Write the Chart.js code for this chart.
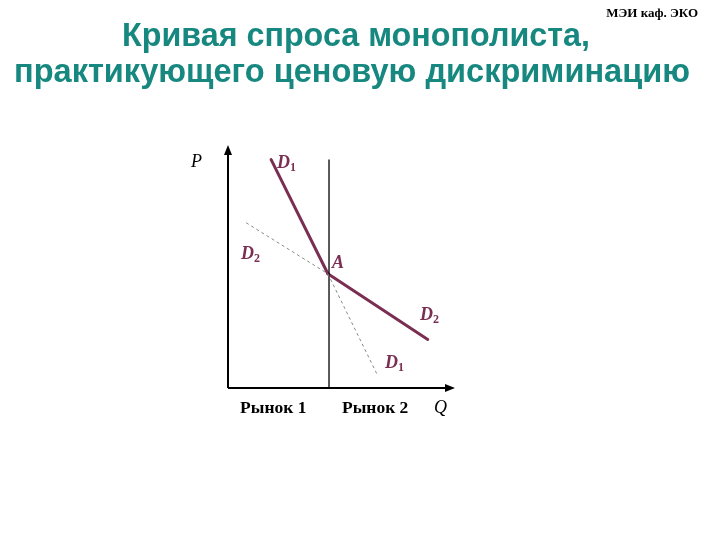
<!DOCTYPE html>
<html><head><meta charset="utf-8">
<script src="https://cdn.jsdelivr.net/npm/chart.js@4.4.0/dist/chart.umd.min.js"></script>
<style>html,body{margin:0;padding:0;background:#fff}#wrap{width:720px;height:540px}</style>
</head><body><div id="wrap"><canvas id="c" width="720" height="540"></canvas></div>
<script>
// Title texts
const titleLines = ["Кривая спроса монополиста,", "практикующего ценовую дискриминацию"];
const cornerText = "МЭИ каф. ЭКО";
// Curves (Q, P) in arbitrary units 0..100
const d1Solid = [[19, 94], [44, 47]];
const d2Solid = [[44, 47], [88, 20]];
const d1Dashed = [[44, 47], [66, 5]];
const d2Dashed = [[8, 68], [44, 47]];
const marketDivider = [[44.5, 0], [44.5, 94]];
// Text labels on the diagram
const labelText = ["P", "D", "D", "A", "D", "D", "Рынок 1", "Рынок 2", "Q"];
const labelSub  = ["",  "1", "2", "",  "2", "1", "", "", ""];
const labelQ    = [-16.3, 21.6, 5.7, 45.8, 84.6, 69.2, 5.3, 50.2, 90.7];
const labelP    = [91, 90.5, 53.1, 49.4, 28, 8.2, -10.3, -10.3, -10.3];

const MAROON = '#7a2e52';
const TEAL = '#16887f';
const toPts = a => a.map(p => ({x: p[0], y: p[1]}));

const labelStyle = ["p", "d", "d", "d", "d", "d", "m", "m", "p"];

const drawPlugin = {
  id: 'draw',
  afterDraw(chart) {
    const ctx = chart.ctx, a = chart.chartArea;
    const xs = chart.scales.x, ys = chart.scales.y;
    ctx.save();
    // axes
    ctx.strokeStyle = '#000'; ctx.fillStyle = '#000'; ctx.lineWidth = 2;
    ctx.beginPath(); ctx.moveTo(a.left, a.bottom); ctx.lineTo(a.left, a.top + 6);
    ctx.moveTo(a.left, a.bottom); ctx.lineTo(a.right - 6, a.bottom); ctx.stroke();
    ctx.beginPath(); ctx.moveTo(a.left, a.top); ctx.lineTo(a.left - 4, a.top + 10); ctx.lineTo(a.left + 4, a.top + 10); ctx.closePath(); ctx.fill();
    ctx.beginPath(); ctx.moveTo(a.right, a.bottom); ctx.lineTo(a.right - 10, a.bottom - 4); ctx.lineTo(a.right - 10, a.bottom + 4); ctx.closePath(); ctx.fill();
    // labels
    ctx.textBaseline = 'alphabetic'; ctx.textAlign = 'left';
    for (let i = 0; i < labelText.length; i++) {
      const px = xs.getPixelForValue(labelQ[i]), py = ys.getPixelForValue(labelP[i]);
      const st = labelStyle[i];
      if (st === 'p') { ctx.font = 'italic 18px "Liberation Serif"'; ctx.fillStyle = '#000'; }
      else if (st === 'd') { ctx.font = 'italic bold 18px "Liberation Serif"'; ctx.fillStyle = MAROON; }
      else { ctx.font = 'bold 17.5px "Liberation Serif"'; ctx.fillStyle = '#000'; }
      ctx.fillText(labelText[i], px, py);
      if (labelSub[i]) {
        const w = ctx.measureText(labelText[i]).width;
        ctx.font = 'bold 12px "Liberation Serif"';
        ctx.fillText(labelSub[i], px + w, py + 3);
      }
    }
    // titles
    ctx.fillStyle = TEAL; ctx.textAlign = 'center';
    ctx.font = 'bold 34px "Liberation Sans"';
    const tgt = [[356, 46, 468], [352, 82, 676]];
    titleLines.forEach((t, i) => {
      const w = ctx.measureText(t).width;
      ctx.save(); ctx.translate(tgt[i][0], tgt[i][1]); ctx.scale(tgt[i][2] / w, 1);
      ctx.fillText(t, 0, 0); ctx.restore();
    });
    ctx.fillStyle = '#000'; ctx.font = 'bold 13px "Liberation Serif"'; ctx.textAlign = 'right';
    ctx.fillText(cornerText, 698, 17);
    ctx.restore();
  }
};

new Chart(document.getElementById('c'), {
  type: 'scatter',
  data: { datasets: [
    { data: toPts(d1Dashed), borderColor: '#8a8a8a', borderWidth: 1, borderDash: [3, 3], showLine: true, pointRadius: 0 },
    { data: toPts(d2Dashed), borderColor: '#8a8a8a', borderWidth: 1, borderDash: [3, 3], showLine: true, pointRadius: 0 },
    { data: toPts(marketDivider), borderColor: '#000', borderWidth: 1.3, showLine: true, pointRadius: 0 },
    { data: toPts(d1Solid), borderColor: MAROON, borderWidth: 3, borderCapStyle: 'round', showLine: true, pointRadius: 0 },
    { data: toPts(d2Solid), borderColor: MAROON, borderWidth: 3, borderCapStyle: 'round', showLine: true, pointRadius: 0 }
  ]},
  options: {
    responsive: false, animation: false, events: [],
    layout: { padding: { left: 228, top: 145, right: 265, bottom: 152 } },
    scales: {
      x: { type: 'linear', min: 0, max: 100, display: false },
      y: { type: 'linear', min: 0, max: 100, display: false }
    },
    plugins: { legend: { display: false }, tooltip: { enabled: false }, title: { display: false } }
  },
  plugins: [drawPlugin]
});
</script></body></html>
